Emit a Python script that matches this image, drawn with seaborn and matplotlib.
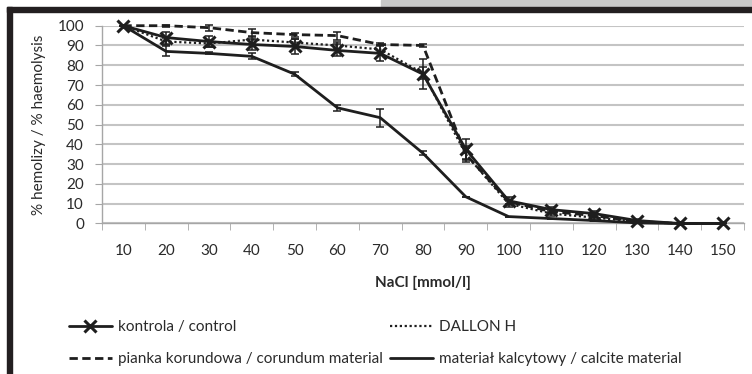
"""
Osmotic fragility curves - % haemolysis vs NaCl concentration.
"""

import matplotlib
matplotlib.use("Agg")
import matplotlib.pyplot as plt
import matplotlib.ticker as mticker
from matplotlib.patches import Rectangle
import seaborn as sns

# -- Data --------------------------------------------------------------------
nacl = [10, 20, 30, 40, 50, 60, 70, 80, 90, 100, 110, 120, 130, 140, 150]

control = [100, 94, 92, 90.5, 89.5, 87.5, 86, 75.5, 37.5, 11.5, 7, 5, 1.5, 0, 0]
control_err = [0, 3, 3, 3, 4, 3, 4, 7.5, 5, 2, 1.5, 1.5, 1, 0, 0]

dallon = [100, 92, 91, 93, 91.5, 90, 88, 76, 35, 10, 5, 3, 1, 0, 0]
dallon_err = [0, 2, 2, 2, 2, 2, 2, 3, 4, 1.5, 1, 1, 0.5, 0, 0]

corundum = [100, 100, 99, 96.5, 95.5, 95, 90.5, 90, 35, 11, 6, 4, 1, 0, 0]
corundum_err = [0, 0.5, 1.5, 2, 1, 2, 1, 1, 3, 1, 1, 1, 0.5, 0, 0]

calcite = [100, 87, 86, 84.5, 75.5, 58.5, 53.5, 35.5, 13.5, 3.5, 2.5, 1.5, 0.3, 0, 0]
calcite_err = [0, 2.5, 0.5, 1.5, 1, 1.5, 4.5, 1, 0, 0, 0, 0, 0, 0, 0]

LABELS = {
    "control": "kontrola / control",
    "dallon": "DALLON H",
    "corundum": "pianka korundowa / corundum material",
    "calcite": "materiał kalcytowy / calcite material",
}

# -- Style -------------------------------------------------------------------
sns.set_style("white")
plt.rcParams["font.family"] = ["Lato", "DejaVu Sans"]
plt.rcParams["font.size"] = 11

INK = "#1e1e1e"
TEXT = "#2a2a2a"
GRID = "#c4c4c4"
AXIS = "#a6a6a6"
W, H = 752, 374

fig = plt.figure(figsize=(W / 100, H / 100), dpi=100)
fig.patch.set_facecolor("white")

# frame around the picture (gray strip, black top and left bars)
fig.patches.append(Rectangle((381 / W, 1 - 7 / H), 1, 7 / H, transform=fig.transFigure,
                             color="#c8c8c8", zorder=0))
fig.patches.append(Rectangle((7 / W, 1 - 12 / H), 1, 5 / H, transform=fig.transFigure,
                             color="#231f20", zorder=0))
fig.patches.append(Rectangle((7 / W, 0), 5 / W, 1 - 7 / H, transform=fig.transFigure,
                             color="#231f20", zorder=0))

ax = fig.add_axes([102 / W, 1 - 223.5 / H, 642 / W, 197.8 / H])

series = [
    (control, control_err, "control", dict(linestyle="-", linewidth=2.0, marker="x",
                                           markersize=8, markeredgewidth=2.2,
                                           markeredgecolor=INK)),
    (dallon, dallon_err, "dallon", dict(linestyle=(0, (1, 1.2)), linewidth=1.6)),
    (corundum, corundum_err, "corundum", dict(linestyle=(0, (3, 1.6)), linewidth=2.0)),
    (calcite, calcite_err, "calcite", dict(linestyle="-", linewidth=2.0)),
]

for vals, errs, key, kw in series:
    sns.lineplot(x=nacl, y=vals, ax=ax, color=INK, label=LABELS[key], clip_on=False,
                 zorder=3, **kw)
    ax.errorbar(nacl, vals, yerr=errs, fmt="none", ecolor=INK, elinewidth=1.1,
                capsize=3, capthick=1.1, zorder=3, clip_on=False)

# axes
ax.set_xlim(5, 155)
ax.set_ylim(0, 100)
ax.set_xticks(nacl)
ax.xaxis.set_minor_locator(mticker.MultipleLocator(10, offset=5))
ax.set_yticks(range(0, 101, 10))
ax.yaxis.grid(True, color=GRID, linewidth=1.5)
ax.xaxis.grid(False)
for side in ["top", "right"]:
    ax.spines[side].set_visible(False)
for side in ["left", "bottom"]:
    ax.spines[side].set_color(AXIS)
    ax.spines[side].set_linewidth(1.0)
ax.tick_params(axis="x", which="major", length=0, pad=15, labelsize=11, labelcolor=TEXT)
ax.tick_params(axis="x", which="minor", length=5, direction="out", color=AXIS, bottom=True)
ax.tick_params(axis="y", length=5, direction="out", color=AXIS, pad=8, labelsize=11,
               labelcolor=TEXT, left=True)

ax.set_xlabel("NaCl [mmol/l]", fontsize=11, fontweight="bold", color=TEXT)
ax.xaxis.set_label_coords(0.5, -(283 - 223.5) / 197.8)
ax.xaxis.label.set_va("center")
ax.set_ylabel("% hemolizy / % haemolysis", fontsize=11, color=TEXT)
ax.yaxis.set_label_coords(-(102 - 39) / 642, 0.5)
ax.yaxis.label.set_va("center")

# legend as two columns anchored where the reference puts them
handles, labels = ax.get_legend_handles_labels()
ax.get_legend().remove()
hmap = dict(zip(labels, handles))
leg_kw = dict(loc="upper left", frameon=False, borderpad=0, borderaxespad=0,
              handlelength=2.8, handletextpad=0.4, labelspacing=1.2, numpoints=1,
              fontsize=11, labelcolor=TEXT)
col1 = [LABELS["control"], LABELS["corundum"]]
col2 = [LABELS["dallon"], LABELS["calcite"]]
fig.legend([hmap[l] for l in col1], col1, bbox_to_anchor=(69 / W, 1 - 320 / H), **leg_kw)
fig.legend([hmap[l] for l in col2], col2, bbox_to_anchor=(390 / W, 1 - 320 / H), **leg_kw)

fig.savefig("out.png", dpi=100)
